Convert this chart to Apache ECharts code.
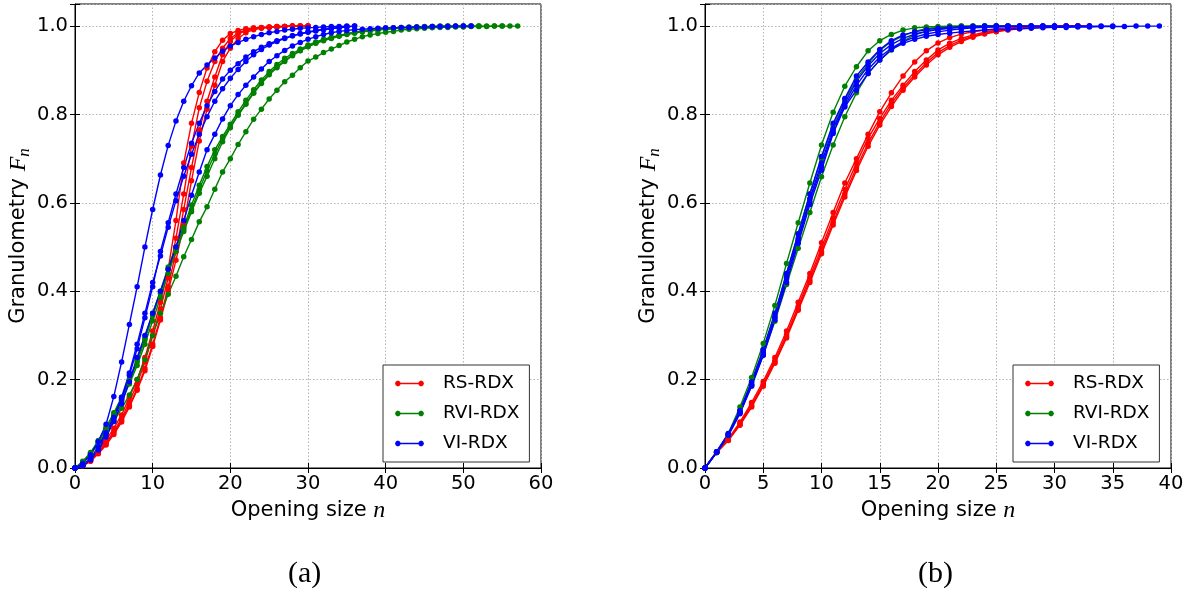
<!DOCTYPE html>
<html>
<head>
<meta charset="utf-8">
<script src="https://cdn.jsdelivr.net/npm/echarts@6/dist/echarts.min.js"></script>
<style>html,body{margin:0;padding:0;background:#fff}#c{width:1189px;height:592px}</style>
</head>
<body>
<div id="c"></div>
<script>
// ---------- data (value at opening size n = array index) ----------
const legendNames = ['RS-RDX', 'RVI-RDX', 'VI-RDX'];
const panelTitles = ['(a)', '(b)'];
const xTicksA = [0, 10, 20, 30, 40, 50, 60];
const xTicksB = [0, 5, 10, 15, 20, 25, 30, 35, 40];
const yTicks = [0.0, 0.2, 0.4, 0.6, 0.8, 1.0];

// Panel (a)
const redA1 = [0, .007, .02, .04, .063, .09, .12, .16, .2, .25, .31, .375, .45, .56, .69, .78, .85, .905, .942, .968, .983, .99, .994, .996, .997, .998, .999, .999, 1, 1, 1];
const redA2 = [0, .006, .018, .036, .058, .083, .112, .15, .19, .24, .30, .36, .43, .52, .62, .728, .815, .875, .92, .95, .972, .985, .99, .994, .996, .997, .998, .999, 1, 1, 1];
const redA3 = [0, .005, .016, .034, .055, .08, .108, .142, .18, .225, .28, .34, .41, .49, .585, .68, .765, .83, .885, .935, .965, .982, .99, .994, .996, .998, .999, .999, 1, 1, 1];
const redA4 = [0, .005, .015, .032, .052, .076, .104, .138, .176, .22, .275, .335, .40, .47, .55, .65, .74, .812, .866, .92, .95, .972, .985, .992, .995, .997, .998, .999, 1, 1, 1];

const greenA1 = [0, .015, .035, .062, .092, .125, .16, .2, .245, .295, .35, .40, .455, .50, .545, .595, .64, .682, .72, .75, .778, .806, .832, .856, .878, .897, .913, .927, .938, .948, .957, .964, .97, .975, .979, .983, .986, .989, .991, .993, .995, .996, .997, .998, .998, .999, .999, .999, 1, 1, 1, 1, 1];
const greenA2 = [0, .014, .033, .06, .09, .122, .157, .196, .24, .29, .345, .395, .45, .497, .54, .585, .63, .672, .71, .745, .772, .80, .825, .85, .872, .892, .908, .922, .934, .945, .954, .962, .968, .973, .978, .982, .985, .988, .99, .992, .994, .995, .996, .997, .998, .998, .999, 1, 1];
const greenA3 = [0, .013, .032, .058, .087, .118, .152, .19, .232, .28, .333, .385, .44, .49, .535, .58, .622, .66, .70, .738, .77, .798, .823, .848, .87, .89, .906, .92, .933, .944, .953, .961, .967, .972, .977, .981, .984, .987, .989, .991, .993, .994, .995, .996, .997, .998, .998, .999, .999, .999, 1, 1, 1, 1, 1, 1];
const greenA4 = [0, .012, .03, .055, .08, .105, .135, .165, .2, .245, .30, .35, .393, .434, .478, .517, .557, .591, .631, .67, .70, .732, .761, .789, .812, .835, .855, .874, .889, .906, .921, .93, .94, .948, .956, .964, .97, .976, .98, .983, .986, .988, .991, .993, .994, .995, .996, .997, .997, .998, .998, .999, .999, .999, 1, 1, 1, 1];

const blueA1 = [0, .01, .03, .06, .099, .162, .24, .325, .41, .50, .585, .663, .73, .785, .83, .865, .894, .912, .928, .943, .955, .963, .97, .976, .981, .985, .988, .991, .993, .995, .996, .997, .998, .999, .999, 1];
const blueA2 = [0, .006, .02, .045, .075, .11, .155, .21, .27, .34, .41, .49, .555, .62, .68, .735, .78, .82, .852, .88, .90, .915, .93, .942, .952, .96, .967, .973, .978, .982, .986, .989, .992, .994, .996, .998, 1];
const blueA3 = [0, .006, .022, .048, .08, .115, .16, .215, .28, .35, .42, .48, .545, .605, .66, .71, .755, .795, .83, .858, .882, .902, .92, .935, .947, .957, .965, .972, .978, .983, .987, .99, .993, .995, .997, .999, 1];
const blueA4 = [0, .005, .018, .04, .07, .105, .145, .195, .25, .30, .35, .40, .45, .50, .56, .617, .67, .72, .755, .79, .82, .845, .866, .885, .903, .92, .933, .945, .955, .963, .97, .976, .981, .985, .988, .99, .992, .993, .994, .995, .996, .996, .997, .997, .998, .998, .999, .999, .999, 1, 1, 1];

// Panel (b)
const redB1 = [0, .037, .066, .104, .148, .196, .25, .31, .375, .44, .51, .578, .645, .70, .755, .806, .849, .887, .919, .944, .962, .974, .982, .987, .991, .994, .996, .997, .998, .999, .999, 1, 1, 1];
const redB2 = [0, .036, .064, .1, .143, .19, .244, .302, .366, .432, .498, .566, .63, .69, .746, .791, .832, .866, .897, .923, .946, .961, .972, .98, .986, .99, .993, .995, .997, .998, .999, .999, 1, 1];
const redB3 = [0, .035, .063, .098, .14, .187, .24, .297, .36, .425, .49, .556, .62, .68, .735, .782, .825, .86, .89, .917, .94, .956, .968, .977, .984, .988, .992, .995, .997, .998, .999, 1, 1];
const redB4 = [0, .035, .062, .097, .138, .185, .237, .294, .357, .42, .485, .55, .613, .673, .728, .776, .818, .855, .885, .912, .935, .952, .965, .975, .982, .987, .991, .994, .996, .998, .999, 1, 1];

const greenB1 = [0, .037, .078, .138, .205, .282, .368, .463, .555, .645, .731, .805, .864, .908, .944, .967, .981, .991, .996, .998, .999, 1, 1, 1, 1, 1];
const greenB2 = [0, .035, .073, .125, .187, .255, .332, .415, .497, .578, .659, .731, .795, .849, .893, .923, .946, .966, .98, .988, .993, .996, .998, .999, 1, 1, 1, 1, 1];
const greenB3 = [0, .036, .076, .13, .195, .268, .35, .44, .53, .62, .70, .775, .832, .88, .915, .945, .965, .978, .988, .994, .997, .999, 1, 1, 1, 1, 1];

const blueB1 = [0, .037, .078, .13, .195, .268, .35, .44, .53, .62, .705, .78, .836, .887, .919, .947, .967, .98, .987, .992, .995, .997, .998, .999, 1, 1, 1, 1, 1, 1, 1];
const blueB2 = [0, .036, .076, .127, .19, .262, .343, .432, .52, .61, .69, .768, .826, .875, .91, .938, .958, .972, .982, .988, .992, .995, .997, .998, .999, 1, 1, 1, 1, 1, 1, 1, 1, 1];
const blueB3 = [0, .035, .074, .123, .185, .255, .335, .42, .508, .596, .674, .757, .817, .855, .893, .923, .947, .961, .97, .977, .981, .984, .987, .989, .991, .992, .993, .994, .995, .996, .997, .997, .998, .998, .999, .999, .999, 1, 1, 1];
const blueB4 = [0, .036, .075, .125, .188, .258, .34, .428, .515, .603, .682, .762, .82, .866, .902, .93, .95, .965, .975, .982, .987, .991, .994, .996, .997, .998, .999, .999, 1, 1, 1, 1, 1, 1, 1, 1];

// ---------- chart ----------
const COLORS = {'RS-RDX': '#ff0000', 'RVI-RDX': '#008000', 'VI-RDX': '#0000ff'};
const panels = [
  {groups: {'RS-RDX': [redA1, redA2, redA3, redA4], 'RVI-RDX': [greenA1, greenA2, greenA3, greenA4], 'VI-RDX': [blueA1, blueA2, blueA3, blueA4]}, xTicks: xTicksA, left: 75},
  {groups: {'RS-RDX': [redB1, redB2, redB3, redB4], 'RVI-RDX': [greenB1, greenB2, greenB3], 'VI-RDX': [blueB1, blueB2, blueB3, blueB4]}, xTicks: xTicksB, left: 705}
];
const pairs = a => a.map((v, i) => [i, v]);
const SANS = 'DejaVu Sans';
const SERIF = 'Liberation Serif';
const gridLine = {show: true, lineStyle: {color: '#b5b5b5', type: [1.5, 2], width: 1}};
const tick = {show: true, inside: true, length: 5, lineStyle: {color: '#000', width: 1}};
const LEGEND_ICON = 'path://M3,2.3H27V3.7H3Z M6,3L5.12,5.12L3,6L0.88,5.12L0,3L0.88,0.88L3,0L5.12,0.88Z M30,3L29.12,5.12L27,6L24.88,5.12L24,3L24.88,0.88L27,0L29.12,0.88Z';

const grids = [], xAxes = [], yAxes = [], series = [], legends = [], graphics = [];
panels.forEach((p, k) => {
  grids.push({left: p.left, top: 4, width: 466, bottom: 124, show: true, borderColor: '#000', borderWidth: 1, backgroundColor: '#fff'});
  const xmin = p.xTicks[0], xmax = p.xTicks[p.xTicks.length - 1], xint = p.xTicks[1] - p.xTicks[0];
  xAxes.push({
    gridIndex: k, type: 'value', position: 'bottom', min: xmin, max: xmax, interval: xint,
    axisLine: {show: true, onZero: false, lineStyle: {color: '#000'}}, axisTick: tick,
    axisLabel: {color: '#000', fontSize: 19.5, fontFamily: SANS, margin: 6},
    splitLine: gridLine,
    name: 'Opening size {i|n}', nameLocation: 'middle', nameGap: 28,
    nameTextStyle: {color: '#000', fontSize: 21, fontFamily: SANS, rich: {i: {fontFamily: SERIF, fontStyle: 'italic', fontSize: 24, color: '#000'}}}
  });
  xAxes.push({
    gridIndex: k, type: 'value', position: 'top', min: xmin, max: xmax, interval: xint,
    axisLine: {show: false}, axisTick: tick, axisLabel: {show: false}, splitLine: {show: false}
  });
  yAxes.push({
    gridIndex: k, type: 'value', position: 'left', min: 0, max: 1.05, interval: 0.2,
    axisLine: {show: true, onZero: false, lineStyle: {color: '#000'}}, axisTick: tick,
    axisLabel: {color: '#000', fontSize: 19.5, fontFamily: SANS, margin: 7,
      formatter: v => (yTicks.some(t => Math.abs(t - v) < 1e-6) ? v.toFixed(1) : '')},
    splitLine: gridLine,
    name: 'Granulometry {i|F}{s|n}', nameLocation: 'middle', nameGap: 39,
    nameTextStyle: {color: '#000', fontSize: 21, fontFamily: SANS,
      rich: {i: {fontFamily: SERIF, fontStyle: 'italic', fontSize: 24, color: '#000'},
             s: {fontFamily: SERIF, fontStyle: 'italic', fontSize: 17, color: '#000', padding: [12, 0, 0, 0]}}}
  });
  yAxes.push({
    gridIndex: k, type: 'value', position: 'right', min: 0, max: 1.05, interval: 0.2,
    axisLine: {show: false}, axisTick: tick, axisLabel: {show: false}, splitLine: {show: false}
  });
  legendNames.forEach(name => {
    p.groups[name].forEach(arr => {
      series.push({
        type: 'line', name: name, xAxisIndex: 2 * k, yAxisIndex: 2 * k,
        data: pairs(arr), symbol: 'circle', symbolSize: 5.5, showSymbol: true,
        lineStyle: {color: COLORS[name], width: 1.4},
        itemStyle: {color: COLORS[name]},
        emphasis: {disabled: true}, animation: false, clip: false
      });
    });
  });
  legends.push({
    data: legendNames, orient: 'vertical', left: p.left + 308, top: 365,
    backgroundColor: '#fff', borderColor: '#333', borderWidth: 1,
    padding: [9, 10, 9, 12], itemGap: 11, itemWidth: 29, itemHeight: 6,
    icon: LEGEND_ICON,
    selectedMode: false,
    textStyle: {color: '#000', fontSize: 18.5, fontFamily: SANS, padding: [0, 0, 0, 14]}
  });
  graphics.push({
    type: 'text', left: p.left + 233 - 20, top: 559,
    style: {text: panelTitles[k], font: '30px "' + SERIF + '"', fill: '#000'}
  });
});

const chart = echarts.init(document.getElementById('c'), null, {renderer: 'canvas'});
chart.setOption({
  animation: false,
  backgroundColor: '#fff',
  grid: grids, xAxis: xAxes, yAxis: yAxes, series: series, legend: legends, graphic: graphics
});
</script>
</body>
</html>
